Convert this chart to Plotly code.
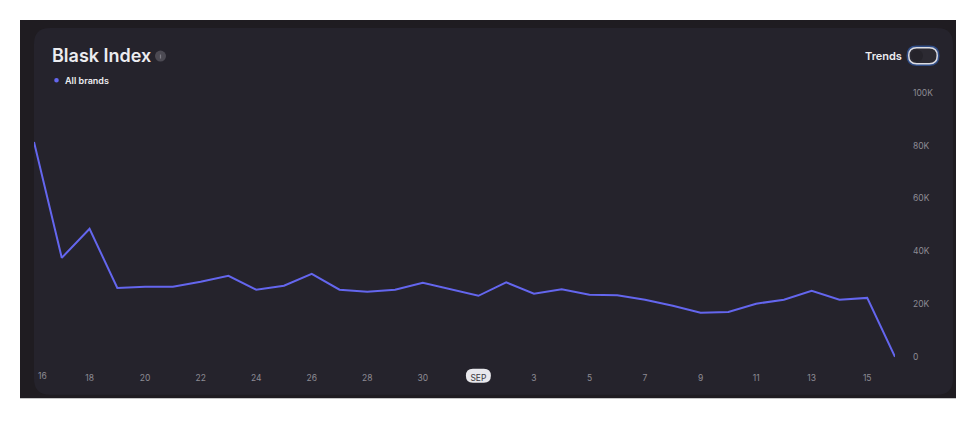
import plotly.graph_objects as go
import pandas as pd

# ---- data ----
dates = pd.date_range("2024-08-16", "2024-09-16", freq="D")
values_k = [81.4, 37.5, 48.5, 26.1, 26.5, 26.5, 28.4, 30.7, 25.4, 26.9, 31.4,
            25.4, 24.6, 25.4, 28.0, 25.6, 23.1, 28.2, 23.9, 25.6, 23.5, 23.3,
            21.6, 19.3, 16.7, 17.0, 20.1, 21.6, 25.0, 21.6, 22.3, 0.0]
values = [v * 1000 for v in values_k]
series_name = "All brands"
x_tick_dates = ["2024-08-18", "2024-08-20", "2024-08-22", "2024-08-24", "2024-08-26",
                "2024-08-28", "2024-08-30", "2024-09-01", "2024-09-03", "2024-09-05",
                "2024-09-07", "2024-09-09", "2024-09-11", "2024-09-13", "2024-09-15"]
x_tick_text = ["18", "20", "22", "24", "26", "28", "30", "SEP", "3", "5", "7", "9",
               "11", "13", "15"]
first_tick_date = "2024-08-16"
first_tick_text = "16"
y_tick_vals = [0, 20000, 40000, 60000, 80000, 100000]
y_tick_text = ["0", "20K", "40K", "60K", "80K", "100K"]

# ---- layout geometry (page pixels; the page body adds an 8px margin) ----
OFF = 8
W, H = 978 - 2 * OFF, 427 - 2 * OFF
L, R = 34, 895          # plot area left/right in page px
T = 93                  # plot area top in page px
YMIN, YMAX = -2000, 100000
px_per_unit = (357 - 93) / 100000
B_px = T + (YMAX - YMIN) * px_per_unit
PW, PH = R - L, B_px - T


def px(xp):
    return (xp - L) / PW


def py(yp):
    return 1 - (yp - T) / PH


def rrect(x0, y0, x1, y1, r):
    pts = [
        ("M", x0 + r, y0), ("L", x1 - r, y0), ("Q", x1, y0, x1, y0 + r),
        ("L", x1, y1 - r), ("Q", x1, y1, x1 - r, y1), ("L", x0 + r, y1),
        ("Q", x0, y1, x0, y1 - r), ("L", x0, y0 + r), ("Q", x0, y0, x0 + r, y0),
    ]
    out = []
    for p in pts:
        cmd = p[0]
        coords = p[1:]
        s = []
        for i in range(0, len(coords), 2):
            s.append(f"{px(coords[i]):.5f},{py(coords[i+1]):.5f}")
        out.append(cmd + " " + " ".join(s))
    return " ".join(out) + " Z"


LINE = "#6466ee"
TICK = "#8d8b94"
TEXT = "#ececf0"

fig = go.Figure()
fig.add_trace(go.Scatter(x=dates, y=values, mode="lines", name=series_name,
                         line=dict(color=LINE, width=2), hoverinfo="skip"))

shapes = [
    dict(type="rect", xref="paper", yref="paper", x0=px(20), x1=px(956),
         y0=py(20), y1=py(398.5), fillcolor="#1f1c21", line_width=0, layer="below"),
    dict(type="path", xref="paper", yref="paper", path=rrect(34, 28, 953, 395, 16),
         fillcolor="#25232c", line_width=0, layer="below"),
    # info icon
    dict(type="circle", xref="paper", yref="paper", x0=px(155), x1=px(166),
         y0=py(50.5), y1=py(61.5), fillcolor="#4c4a53", line_width=0, layer="above"),
    dict(type="line", xref="paper", yref="paper", x0=px(160.5), x1=px(160.5),
         y0=py(54.5), y1=py(58.5), line=dict(color="#7d7b84", width=1.2), layer="above"),
    # legend dot
    dict(type="circle", xref="paper", yref="paper", x0=px(54.2), x1=px(58.8),
         y0=py(78), y1=py(82.6), fillcolor=LINE, line_width=0, layer="above"),
    # toggle
    dict(type="path", xref="paper", yref="paper", path=rrect(906.5, 45.5, 939.5, 66, 10),
         fillcolor="#2f4c86", line_width=0, layer="above"),
    dict(type="path", xref="paper", yref="paper", path=rrect(908, 47, 938, 64.5, 8.7),
         fillcolor="#dcdce2", line_width=0, layer="above"),
    dict(type="path", xref="paper", yref="paper", path=rrect(909.5, 48.5, 936.5, 63, 7.2),
         fillcolor="#2c2a32", line_width=0, layer="above"),
    dict(type="circle", xref="paper", yref="paper", x0=px(911), x1=px(923),
         y0=py(49.7), y1=py(61.7), fillcolor="#25232a", line_width=0, layer="above"),
    # SEP pill
    dict(type="path", xref="x", yref="paper", xsizemode="pixel", ysizemode="pixel",
         xanchor="2024-09-01", yanchor=py(376),
         path="M -5.5,-7 L 5.5,-7 Q 12.5,-7 12.5,0 Q 12.5,7 5.5,7 L -5.5,7 Q -12.5,7 -12.5,0 Q -12.5,-7 -5.5,-7 Z",
         fillcolor="#e8e8ec", line_width=0, layer="below"),
]

annotations = [
    dict(text="Blask Index", xref="paper", yref="paper", x=px(50), y=py(55.5),
         xanchor="left", yanchor="middle", showarrow=False,
         font=dict(family="Inter", size=18, color=TEXT, weight=600)),
    dict(text=series_name, xref="paper", yref="paper", x=px(63), y=py(80),
         xanchor="left", yanchor="middle", showarrow=False,
         font=dict(family="Inter", size=9, color=TEXT, weight=600)),
    dict(text="Trends", xref="paper", yref="paper", x=px(903.5), y=py(56),
         xanchor="right", yanchor="middle", showarrow=False,
         font=dict(family="Inter", size=11, color=TEXT, weight=600)),
    dict(text=first_tick_text, xref="x", yref="paper", x=first_tick_date, y=py(376),
         xshift=8, xanchor="center", yanchor="middle", showarrow=False,
         font=dict(family="Inter", size=8.5, color=TICK)),
]

ticktext = [f'<span style="color:#3a3940">{t}</span>' if t == "SEP" else t for t in x_tick_text]

fig.update_layout(
    width=W, height=H,
    margin=dict(l=L - OFF, r=W - (R - OFF), t=T - OFF, b=H - (B_px - OFF), pad=0),
    paper_bgcolor="white", plot_bgcolor="rgba(0,0,0,0)",
    showlegend=False, hovermode=False,
    shapes=shapes, annotations=annotations,
    font=dict(family="Inter", size=8.5, color=TICK),
    xaxis=dict(range=[dates[0], dates[-1]], showgrid=False, zeroline=False,
               showline=False, ticks="", tickvals=x_tick_dates, ticktext=ticktext,
               tickfont=dict(family="Inter", size=8.5, color=TICK),
               ticklabelstandoff=9, fixedrange=True),
    yaxis=dict(range=[YMIN, YMAX], side="right", showgrid=False, zeroline=False,
               showline=False, ticks="", tickvals=y_tick_vals, ticktext=y_tick_text,
               tickfont=dict(family="Inter", size=8.5, color=TICK),
               ticklabelstandoff=17, fixedrange=True),
)

fig.write_html("out.html", config={"displayModeBar": False})
